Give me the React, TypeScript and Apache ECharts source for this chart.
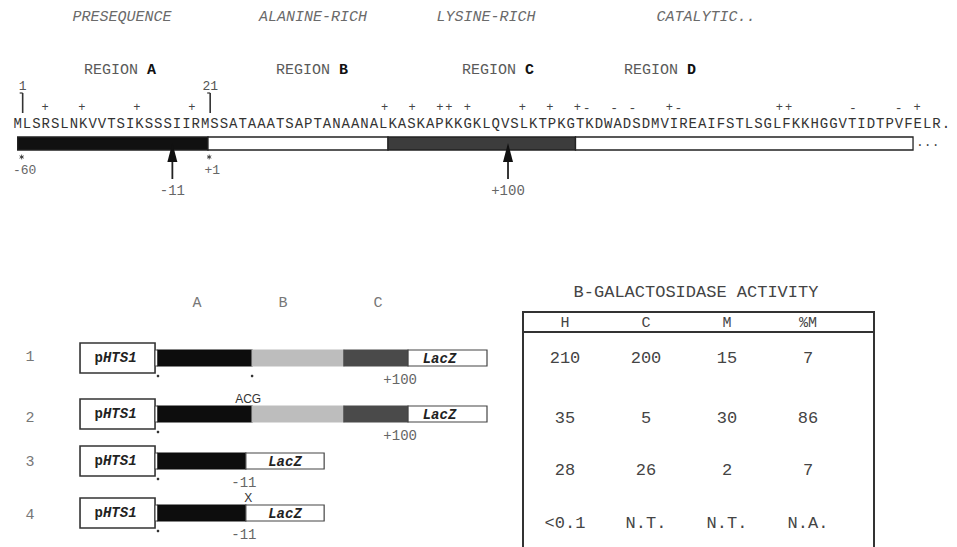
import React, { useEffect, useRef } from 'react';
import * as echarts from 'echarts';

// ---------------- data ----------------
const SEQUENCE = 'MLSRSLNKVVTSIKSSSIIRMSSATAAATSAPTANAANALKASKAPKKGKLQVSLKTPKGTKDWADSDMVIREAIFSTLSGLFKKHGGVTIDTPVFELR.';
const positiveResidues = [4, 8, 14, 20, 41, 44, 47, 48, 50, 56, 59, 62, 72, 84, 85, 99];
const negativeResidues = [63, 66, 68, 73, 92, 97];
const regionNames = ['A', 'B', 'C', 'D'];
const regionStart = [1, 21.3, 40.5, 60.5];
const regionEnd = [21.3, 40.5, 60.5, 96.5];
const domainTitles = ['PRESEQUENCE', 'ALANINE-RICH', 'LYSINE-RICH', 'CATALYTIC..'];
const numberedResidues = [1, 21];
const numberedLabels = ['1', '21'];
const starredResidues = [1, 21];
const starredLabels = ['-60', '+1'];
const arrowResidues = [17.5, 53.3];
const arrowLabels = ['-11', '+100'];

const constructIds = ['1', '2', '3', '4'];
const constructKinds = [['A', 'B', 'C', 'LacZ'], ['A', 'B', 'C', 'LacZ'], ['A', 'LacZ'], ['A', 'LacZ']];
const constructBounds = [[0, 28.6, 56.5, 76, 100], [0, 28.6, 56.5, 76, 100], [0, 26.7, 50.5], [0, 26.7, 50.5]];
const promoterSpan = [-23.7, -0.9];
const constructDots = [[0, 28.6], [0], [0], [0]];
const noteAbove = ['', 'ACG', '', 'X'];
const noteAbovePos = [0, 27.4, 0, 27.4];
const noteBelow = ['+100', '+100', '-11', '-11'];
const noteBelowPos = [73.6, 73.6, 26.1, 26.1];

const activityColumns = ['H', 'C', 'M', '%M'];
const activityH = ['210', '35', '28', '<0.1'];
const activityC = ['200', '5', '26', 'N.T.'];
const activityM = ['15', '30', '2', 'N.T.'];
const activityPctM = ['7', '86', '7', 'N.A.'];

// ---------------- layout / style ----------------
const MONO = '"Liberation Mono", "DejaVu Sans Mono", monospace';
const SANS = '"Liberation Sans", Arial, sans-serif';
const GRAY = '#555';
const HEADER_Y = 17;
const REGION_Y = 70;
const NUM_Y = 86;
const TICK_TOP = 93;
const TICK_BOTTOM = 113;
const CHARGE_Y = 108;
const SEQ_Y = 124;
const BAR_TOP = 137;
const BAR_BOTTOM = 150;
const STAR_Y = 157;
const STAR_LABEL_Y = 170;
const ARROW_TIP = 143;
const ARROW_BASE = 162;
const ARROW_END = 179;
const ARROW_LABEL_Y = 191;
const CONSTRUCT_Y = [358, 414, 461, 513];
const TABLE_ROW_Y = [358, 418, 470, 523];
const domainX = [122, 313, 486, 706];
const regionLabelX = [120, 312, 498, 660];
const TOP_FILL: Record<string, string> = { A: '#111', B: '#fff', C: '#3c3c3c', D: '#fff' };
const CON_FILL: Record<string, string> = { A: '#0d0d0d', B: '#bdbdbd', C: '#4a4a4a', LacZ: '#fff' };

function txt(text: string, x: number, y: number, extra: any = {}) {
  return {
    type: 'text',
    x,
    y,
    style: {
      text,
      fill: GRAY,
      fontFamily: MONO,
      fontSize: 15,
      align: 'center',
      verticalAlign: 'middle',
      textAlign: 'center',
      textVerticalAlign: 'middle',
      ...extra,
    },
  };
}

function asterisk(x: number, y: number) {
  const r = 2.4;
  const st = { stroke: '#333', lineWidth: 0.9 };
  return [
    { type: 'line', shape: { x1: x, y1: y - r, x2: x, y2: y + r }, style: st },
    { type: 'line', shape: { x1: x - r * 0.87, y1: y - r * 0.5, x2: x + r * 0.87, y2: y + r * 0.5 }, style: st },
    { type: 'line', shape: { x1: x - r * 0.87, y1: y + r * 0.5, x2: x + r * 0.87, y2: y - r * 0.5 }, style: st },
  ];
}

export default function App() {
  const ref = useRef<HTMLDivElement>(null);

  useEffect(() => {
    const chart = echarts.init(ref.current!, null, { renderer: 'svg' });

    const seqChars = SEQUENCE.split('');
    const charges = [
      ...positiveResidues.map((r) => ({ r, s: '+' })),
      ...negativeResidues.map((r) => ({ r, s: '-' })),
    ];
    const segs: { row: number; kind: string; a: number; b: number }[] = [];
    constructKinds.forEach((kinds, row) => {
      kinds.forEach((kind, k) => {
        segs.push({ row, kind, a: constructBounds[row][k], b: constructBounds[row][k + 1] });
      });
    });
    const cells: { c: number; r: number; t: string }[] = [];
    const cols = [activityH, activityC, activityM, activityPctM];
    for (let r = 0; r < 4; r++) for (let c = 0; c < 4; c++) cells.push({ c, r, t: cols[c][r] });

    const graphic: any[] = [];
    domainTitles.forEach((t, i) =>
      graphic.push(txt(t, domainX[i], HEADER_Y, { fontStyle: 'italic', fill: '#6a6a6a', fontSize: 15 }))
    );
    regionNames.forEach((n, i) =>
      graphic.push({
        type: 'text',
        x: regionLabelX[i],
        y: REGION_Y,
        style: {
          text: `{n|REGION }{b|${n}}`,
          align: 'center',
          verticalAlign: 'middle',
          textAlign: 'center',
          textVerticalAlign: 'middle',
          rich: {
            n: { fontFamily: MONO, fontSize: 15, fill: '#5a5a5a', color: '#5a5a5a' },
            b: { fontFamily: MONO, fontSize: 15, fontWeight: 'bold', fill: '#111', color: '#111' },
          },
        },
      })
    );
    ['A', 'B', 'C'].forEach((n, i) => graphic.push(txt(n, [197, 283, 378][i], 303, { fill: '#777' })));
    constructIds.forEach((id, i) => graphic.push(txt(id, 30, [357, 418, 462, 515][i], { fill: '#777' })));
    graphic.push(txt('B-GALACTOSIDASE ACTIVITY', 696, 292, { fontSize: 17, fill: '#444' }));
    const lineStyle = { stroke: '#333', lineWidth: 2 };
    graphic.push({ type: 'line', shape: { x1: 523, y1: 312, x2: 874, y2: 312 }, style: lineStyle });
    graphic.push({ type: 'line', shape: { x1: 523, y1: 332, x2: 874, y2: 332 }, style: lineStyle });
    graphic.push({ type: 'line', shape: { x1: 523, y1: 311, x2: 523, y2: 547 }, style: lineStyle });
    graphic.push({ type: 'line', shape: { x1: 874, y1: 311, x2: 874, y2: 547 }, style: lineStyle });

    const option: any = {
      animation: false,
      backgroundColor: '#fff',
      grid: [
        { left: 0, right: 0, top: 0, bottom: 0 },
        { left: 158, right: 470, top: 0, bottom: 0 },
        { left: 524.5, right: 108.5, top: 332, bottom: 0 },
      ],
      xAxis: [
        { gridIndex: 0, type: 'value', min: -0.885, max: 101.19, show: false },
        { gridIndex: 0, type: 'value', min: -0.904, max: 103.35, show: false },
        { gridIndex: 1, type: 'value', min: 0, max: 100, show: false },
        {
          gridIndex: 2,
          type: 'category',
          data: activityColumns,
          position: 'top',
          boundaryGap: true,
          axisLine: { show: false },
          axisTick: { show: false },
          splitLine: { show: false },
          axisLabel: { margin: 1, fontFamily: MONO, fontSize: 15, color: '#444' },
        },
      ],
      yAxis: [
        { gridIndex: 0, type: 'value', min: 0, max: 547, inverse: true, show: false },
        { gridIndex: 1, type: 'value', min: 0, max: 547, inverse: true, show: false },
        { gridIndex: 2, type: 'value', min: 332, max: 547, inverse: true, show: false },
      ],
      graphic,
      series: [
        // sequence letters
        {
          type: 'custom',
          name: 'sequence',
          xAxisIndex: 0,
          yAxisIndex: 0,
          clip: false,
          silent: true,
          data: seqChars.map((_, i) => [i + 1, SEQ_Y]),
          renderItem: (params: any, api: any) => {
            const p = api.coord([api.value(0), api.value(1)]);
            return txt(seqChars[params.dataIndex], p[0], p[1], { fill: '#333', fontSize: 14 });
          },
        },
        // charge markers
        {
          type: 'custom',
          name: 'charges',
          xAxisIndex: 1,
          yAxisIndex: 0,
          clip: false,
          silent: true,
          data: charges.map((c) => [c.r, CHARGE_Y]),
          renderItem: (params: any, api: any) => {
            const p = api.coord([api.value(0), api.value(1)]);
            const s = charges[params.dataIndex].s;
            return txt(s, p[0], p[1], { fill: '#444', fontSize: s === '+' ? 12 : 13 });
          },
        },
        // region bar
        {
          type: 'custom',
          name: 'regions',
          xAxisIndex: 0,
          yAxisIndex: 0,
          clip: false,
          silent: true,
          data: regionNames.map((_, i) => [regionStart[i], BAR_TOP, regionEnd[i], BAR_BOTTOM]),
          encode: { x: [0, 2], y: [1, 3] },
          renderItem: (params: any, api: any) => {
            const i = params.dataIndex;
            const p0 = api.coord([api.value(0), api.value(1)]);
            const p1 = api.coord([api.value(2), api.value(3)]);
            const children: any[] = [
              {
                type: 'rect',
                shape: { x: p0[0], y: p0[1], width: p1[0] - p0[0], height: p1[1] - p0[1] },
                style: { fill: TOP_FILL[regionNames[i]], stroke: '#222', lineWidth: 1.3 },
              },
            ];
            if (i === regionNames.length - 1) {
              children.push({
                type: 'text',
                x: p1[0] + 3,
                y: p1[1] - 1,
                style: { text: '...', fill: '#444', fontFamily: MONO, fontSize: 13, align: 'left', verticalAlign: 'bottom', textAlign: 'left', textVerticalAlign: 'bottom' },
              });
            }
            return { type: 'group', children };
          },
        },
        // numbered residue ticks above sequence
        {
          type: 'custom',
          name: 'numbers',
          xAxisIndex: 0,
          yAxisIndex: 0,
          clip: false,
          silent: true,
          data: numberedResidues.map((r) => [r, TICK_TOP]),
          renderItem: (params: any, api: any) => {
            const p = api.coord([api.value(0), api.value(1)]);
            const x = p[0] + 5;
            return {
              type: 'group',
              children: [
                txt(numberedLabels[params.dataIndex], x, NUM_Y, { fontSize: 13, fill: '#555' }),
                { type: 'line', shape: { x1: x, y1: TICK_TOP, x2: x, y2: TICK_BOTTOM }, style: { stroke: '#333', lineWidth: 1.6 } },
                { type: 'line', shape: { x1: x - 3, y1: TICK_TOP, x2: x, y2: TICK_TOP }, style: { stroke: '#333', lineWidth: 1.2 } },
              ],
            };
          },
        },
        // starred residues below bar
        {
          type: 'custom',
          name: 'stars',
          xAxisIndex: 0,
          yAxisIndex: 0,
          clip: false,
          silent: true,
          data: starredResidues.map((r) => [r, STAR_Y]),
          renderItem: (params: any, api: any) => {
            const p = api.coord([api.value(0), api.value(1)]);
            const x = p[0] + 4;
            return {
              type: 'group',
              children: [
                ...asterisk(x, STAR_Y),
                txt(starredLabels[params.dataIndex], x + 3, STAR_LABEL_Y, { fontSize: 13, fill: '#666' }),
              ],
            };
          },
        },
        // arrows
        {
          type: 'custom',
          name: 'arrows',
          xAxisIndex: 0,
          yAxisIndex: 0,
          clip: false,
          silent: true,
          data: arrowResidues.map((r) => [r, ARROW_TIP]),
          renderItem: (params: any, api: any) => {
            const p = api.coord([api.value(0), api.value(1)]);
            const x = p[0];
            return {
              type: 'group',
              children: [
                { type: 'line', shape: { x1: x, y1: ARROW_BASE - 2, x2: x, y2: ARROW_END }, style: { stroke: '#222', lineWidth: 1.8 } },
                { type: 'polygon', shape: { points: [[x, ARROW_TIP], [x - 5, ARROW_BASE], [x + 5, ARROW_BASE]] }, style: { fill: '#111' } },
                txt(arrowLabels[params.dataIndex], x, ARROW_LABEL_Y, { fontSize: 14, fill: '#666' }),
              ],
            };
          },
        },
        // promoter boxes
        {
          type: 'custom',
          name: 'promoters',
          xAxisIndex: 2,
          yAxisIndex: 1,
          clip: false,
          silent: true,
          data: constructIds.map((_, i) => [promoterSpan[0], CONSTRUCT_Y[i], promoterSpan[1]]),
          renderItem: (params: any, api: any) => {
            const y = api.value(1);
            const p0 = api.coord([api.value(0), y - 15]);
            const p1 = api.coord([api.value(2), y + 15]);
            const l0 = api.coord([api.value(2), y - 8]);
            const l1 = api.coord([0, y + 8]);
            return {
              type: 'group',
              children: [
                { type: 'rect', shape: { x: p0[0], y: p0[1], width: p1[0] - p0[0], height: p1[1] - p0[1] }, style: { fill: '#fff', stroke: '#333', lineWidth: 1.6 } },
                { type: 'rect', shape: { x: l0[0], y: l0[1], width: l1[0] - l0[0], height: l1[1] - l0[1] }, style: { fill: '#fff', stroke: '#444', lineWidth: 1 } },
                {
                  type: 'text',
                  x: (p0[0] + p1[0]) / 2 - 2,
                  y: (p0[1] + p1[1]) / 2,
                  style: {
                    text: '{a|p}{b|HTS1}',
                    align: 'center',
                    verticalAlign: 'middle',
                    textAlign: 'center',
                    textVerticalAlign: 'middle',
                    rich: {
                      a: { fontFamily: MONO, fontSize: 14, fontWeight: 'bold', fill: '#222', color: '#222' },
                      b: { fontFamily: MONO, fontSize: 14, fontWeight: 'bold', fontStyle: 'italic', fill: '#222', color: '#222' },
                    },
                  },
                },
              ],
            };
          },
        },
        // construct segments
        {
          type: 'custom',
          name: 'constructs',
          xAxisIndex: 2,
          yAxisIndex: 1,
          clip: false,
          silent: true,
          data: segs.map((s) => [s.a, CONSTRUCT_Y[s.row], s.b]),
          renderItem: (params: any, api: any) => {
            const s = segs[params.dataIndex];
            const y = api.value(1);
            const p0 = api.coord([api.value(0), y - 8]);
            const p1 = api.coord([api.value(2), y + 8]);
            const children: any[] = [
              {
                type: 'rect',
                shape: { x: p0[0], y: p0[1], width: p1[0] - p0[0], height: p1[1] - p0[1] },
                style: { fill: CON_FILL[s.kind], stroke: s.kind === 'LacZ' ? '#444' : CON_FILL[s.kind], lineWidth: 1.2 },
              },
            ];
            if (s.kind === 'LacZ') {
              children.push({
                type: 'text',
                x: (p0[0] + p1[0]) / 2 - (s.row < 2 ? 8 : 0),
                y: y + 1,
                style: { text: 'LacZ', fill: '#222', fontFamily: MONO, fontSize: 14, fontWeight: 'bold', fontStyle: 'italic', align: 'center', verticalAlign: 'middle', textAlign: 'center', textVerticalAlign: 'middle' },
              });
            }
            return { type: 'group', children };
          },
        },
        // construct annotations
        {
          type: 'custom',
          name: 'annotations',
          xAxisIndex: 2,
          yAxisIndex: 1,
          clip: false,
          silent: true,
          data: constructIds.map((_, i) => [0, CONSTRUCT_Y[i]]),
          renderItem: (params: any, api: any) => {
            const i = params.dataIndex;
            const y = api.value(1);
            const children: any[] = [];
            constructDots[i].forEach((d) => {
              const p = api.coord([d, y + 18]);
              children.push({ type: 'circle', shape: { cx: p[0], cy: p[1], r: 1.3 }, style: { fill: '#333' } });
            });
            if (noteAbove[i]) {
              const p = api.coord([noteAbovePos[i], y - 15]);
              children.push(txt(noteAbove[i], p[0], p[1], { fontFamily: SANS, fontSize: 12, fill: '#333' }));
            }
            const pb = api.coord([noteBelowPos[i], y + 22]);
            children.push(txt(noteBelow[i], pb[0], pb[1], { fontSize: 14, fill: '#666' }));
            return { type: 'group', children };
          },
        },
        // activity table
        {
          type: 'custom',
          name: 'activity',
          xAxisIndex: 3,
          yAxisIndex: 2,
          clip: false,
          silent: true,
          data: cells.map((c) => [c.c, TABLE_ROW_Y[c.r]]),
          renderItem: (params: any, api: any) => {
            const p = api.coord([api.value(0), api.value(1)]);
            return txt(cells[params.dataIndex].t, p[0], p[1], { fontSize: 17, fill: '#444' });
          },
        },
      ],
    };

    chart.setOption(option);
    return () => chart.dispose();
  }, []);

  return (
    <div
      ref={ref}
      style={{ position: 'fixed', left: 0, top: 0, width: 957, height: 547, background: '#fff' }}
    />
  );
}
